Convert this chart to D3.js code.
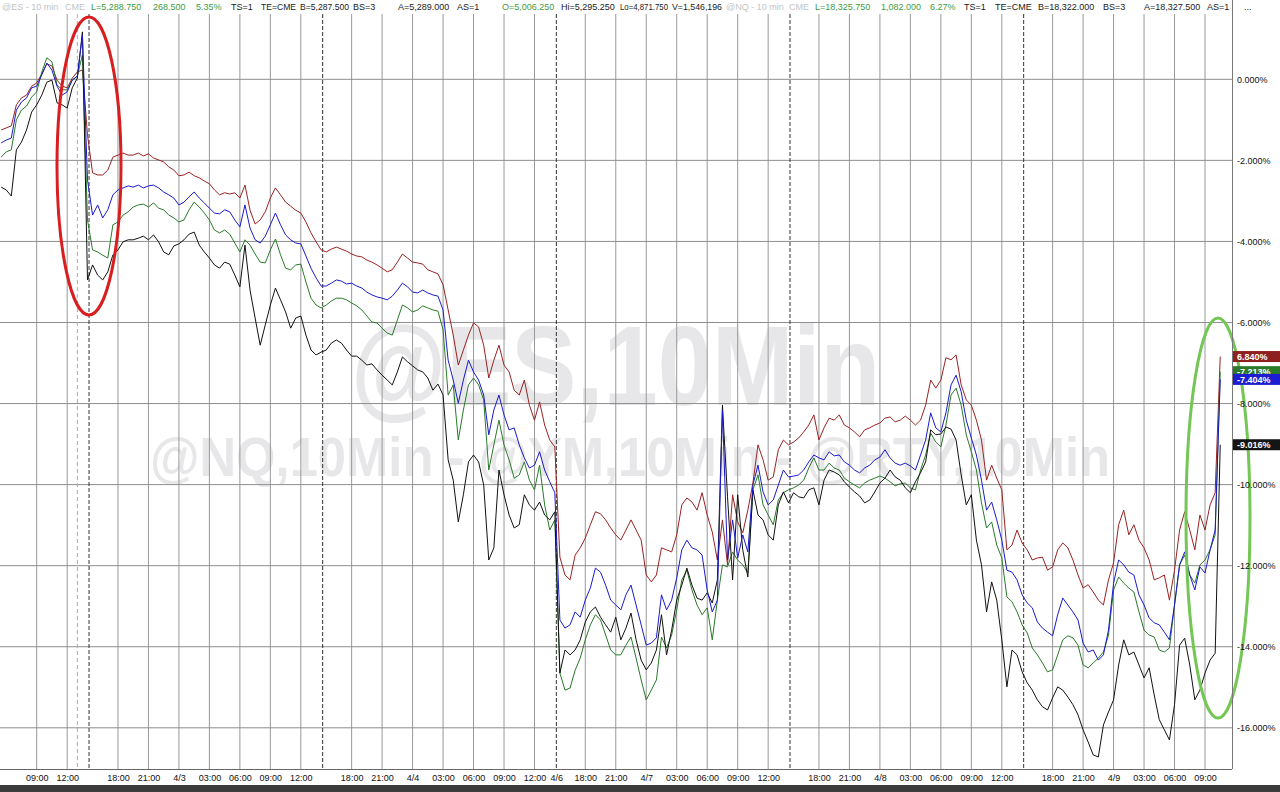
<!DOCTYPE html>
<html>
<head>
<meta charset="utf-8">
<script src="https://cdn.jsdelivr.net/npm/d3@7"></script>
<style>
  html, body { margin: 0; padding: 0; background: #fff; }
  svg { display: block; font-family: "Liberation Sans", Arial, sans-serif; }
</style>
</head>
<body>
<div id="chart"></div>
<script>
const width = 1280;
const height = 792;
const plotRight = 1232;
const plotTop = 14;
const plotBottom = 769;

// x is trading hours counted from 4/2 06:00, session gaps removed; one sample every half hour
const sampleStart = -0.5;
const sampleStep = 0.5;

// % change, YM (red)
const ymValues = [
  -1.25,-1.20,-1.15,-0.63,-0.46,-0.39,-0.17,-0.09,0.13,0.38,0.33,-0.02,-0.17,-0.21,0.03,0.18,0.23,-1.37,-2.31,-2.36,-2.36,-2.24,-1.92,-1.87,-1.82,-1.87,
  -1.87,-1.82,-1.89,-1.84,-1.94,-1.99,-2.04,-2.16,-2.24,-2.38,-2.36,-2.29,-2.38,-2.43,-2.51,-2.58,-2.73,-2.85,-2.80,-2.83,
  -2.80,-2.93,-2.61,-3.23,-3.57,-3.47,-3.27,-2.93,-2.68,-2.85,-3.03,-3.13,-3.23,-3.30,-3.52,-3.79,-4.01,-4.21,-4.26,-4.19,
  -4.14,-4.19,-4.24,-4.31,-4.36,-4.38,-4.46,-4.51,-4.58,-4.66,-4.75,-4.70,-4.51,-4.31,-4.41,-4.51,-4.53,
  -4.56,-4.70,-4.75,-4.80,-5.07,-5.69,-6.31,-7.05,-6.68,-6.31,-6.01,-6.11,-6.56,-7.37,-6.93,-6.56,-7.05,-7.22,-7.67,-7.79,
  -7.42,-8.04,-8.41,-7.96,-8.53,-8.90,-9.07,
  -11.79,-12.23,-12.35,-11.74,-11.56,-11.32,-10.99,-10.67,-10.72,-10.87,-11.07,-11.24,-11.37,-11.12,-10.87,-11.12,-11.37,-12.23,-12.40,-12.23,
  -11.56,-11.61,-11.66,-11.24,-10.50,-10.33,-10.43,-10.63,-10.20,-10.75,-11.17,-11.86,-10.87,-11.98,-10.25,-10.92,-11.19,-10.63,-9.96,-9.02,
  -9.39,-9.89,-9.81,-9.14,-8.90,-9.02,-8.95,-8.85,-8.70,-8.53,-8.28,-8.90,
  -8.60,-8.36,-8.41,-8.28,-8.53,-8.60,-8.70,-8.82,-8.65,-8.60,-8.53,-8.48,-8.36,-8.33,-8.45,-8.41,-8.31,-8.41,-8.53,-8.41,
  -8.04,-7.42,-7.62,-7.42,-6.87,-6.92,-6.80,-7.54,-7.91,-8.04,-8.41,-8.90,-9.89,-9.52,-9.84,-10.13,-11.61,-11.49,-11.12,-11.44,
  -11.61,-11.86,-11.81,-11.79,-12.11,-12.03,-11.61,-11.44,-11.56,-11.86,-12.23,-12.55,-12.47,-12.65,-12.85,-12.97,-12.35,-11.93,-10.99,-10.63,
  -11.24,-10.99,-11.37,-11.56,-11.86,-12.35,-12.30,-12.23,-12.85,-12.11,-11.12,-10.67,-11.12,-11.61,-10.75,-11.12,-10.50,-10.20,
  -6.84
];

// % change, ES (blue)
const esValues = [
  -1.57,-1.50,-1.45,-0.76,-0.56,-0.46,-0.21,-0.17,0.11,0.40,0.23,-0.17,-0.39,-0.31,-0.02,0.08,1.09,-2.48,-3.35,-3.10,-3.42,-3.22,-2.85,-2.73,-2.68,-2.63,
  -2.66,-2.61,-2.68,-2.63,-2.61,-2.68,-2.78,-2.85,-2.93,-3.10,-3.03,-2.90,-2.78,-2.93,-3.05,-3.18,-3.30,-3.32,-3.22,-3.27,
  -3.47,-3.64,-3.10,-3.67,-3.96,-4.04,-3.87,-3.59,-3.30,-3.59,-3.84,-3.96,-4.04,-4.06,-4.36,-4.66,-4.90,-5.10,-5.10,-5.03,
  -4.95,-4.98,-5.05,-5.03,-5.10,-5.15,-5.25,-5.32,-5.37,-5.40,-5.44,-5.35,-5.20,-5.03,-5.12,-5.25,-5.27,
  -5.20,-5.27,-5.32,-5.35,-5.69,-6.93,-7.42,-7.99,-7.42,-6.93,-7.22,-7.42,-7.79,-8.77,-8.16,-7.79,-8.28,-8.65,-8.60,-9.02,
  -9.34,-9.59,-9.52,-9.19,-9.64,-9.93,-10.20,
  -13.34,-13.54,-13.46,-13.14,-13.27,-12.85,-12.55,-12.06,-12.16,-12.48,-12.85,-12.97,-13.09,-12.72,-12.48,-12.97,-13.46,-13.96,-13.91,-13.78,
  -12.72,-13.09,-12.85,-12.30,-11.61,-11.37,-11.56,-11.61,-11.74,-12.60,-13.14,-12.85,-8.16,-11.86,-10.87,-11.81,-11.24,-11.66,-10.01,-9.52,
  -10.18,-10.50,-10.38,-10.01,-9.64,-9.81,-9.79,-9.76,-9.64,-9.44,-9.27,-9.34,
  -9.39,-9.19,-9.29,-9.27,-9.44,-9.52,-9.64,-9.71,-9.59,-9.52,-9.39,-9.32,-9.14,-9.34,-9.47,-9.52,-9.47,-9.54,-9.64,-9.27,
  -8.90,-8.23,-8.60,-8.70,-8.23,-7.54,-7.30,-7.71,-8.41,-8.85,-9.27,-9.89,-10.63,-10.43,-10.87,-11.37,-12.11,-12.16,-12.35,-12.72,
  -12.92,-13.04,-13.39,-13.54,-13.64,-13.73,-13.21,-12.80,-12.97,-13.14,-13.34,-13.91,-14.13,-14.08,-14.33,-14.20,-13.59,-12.43,-11.86,-11.98,
  -12.16,-12.23,-12.72,-12.97,-13.29,-13.41,-13.46,-13.64,-13.83,-12.97,-11.98,-11.66,-12.23,-12.60,-12.03,-12.18,-11.61,-11.12,
  -7.404
];

// % change, NQ (green)
const nqValues = [
  -1.92,-1.79,-1.74,-1.00,-0.76,-0.66,-0.44,-0.31,0.18,0.53,0.43,-0.14,-0.26,-0.26,-0.02,0.08,0.60,-3.47,-4.21,-4.26,-4.34,-4.41,-3.59,-3.52,-3.35,-3.27,
  -3.15,-3.10,-3.08,-3.15,-3.05,-3.18,-3.22,-3.35,-3.42,-3.52,-3.47,-3.22,-3.03,-3.15,-3.30,-3.47,-3.72,-3.79,-3.72,-3.82,
  -4.04,-4.26,-3.96,-4.09,-4.31,-4.51,-4.53,-4.21,-3.94,-4.33,-4.66,-4.70,-4.58,-4.56,-5.00,-5.40,-5.57,-5.64,-5.57,-5.47,
  -5.40,-5.40,-5.44,-5.52,-5.59,-5.69,-5.84,-5.99,-6.01,-6.14,-6.26,-6.31,-5.94,-5.57,-5.64,-5.74,-5.69,
  -5.59,-5.64,-5.69,-5.72,-6.18,-7.79,-7.54,-8.90,-8.16,-7.54,-7.37,-7.54,-7.91,-9.64,-9.02,-8.41,-9.02,-9.39,-9.84,-9.76,
  -9.44,-9.89,-10.13,-9.52,-10.50,-11.12,-10.87,
  -14.65,-15.07,-15.02,-14.58,-14.28,-13.83,-13.46,-13.21,-13.34,-13.71,-14.08,-14.20,-14.20,-13.96,-13.76,-14.28,-14.82,-15.31,-15.07,-14.82,
  -13.76,-14.03,-13.71,-13.09,-12.35,-12.11,-12.60,-12.97,-13.21,-13.04,-13.83,-12.85,-11.98,-12.03,-11.66,-11.86,-11.98,-12.18,-10.13,-9.76,
  -10.50,-10.75,-10.99,-10.38,-10.20,-10.13,-10.08,-10.01,-9.89,-9.59,-9.34,-9.64,
  -9.64,-9.47,-9.59,-9.64,-9.84,-9.93,-10.01,-10.08,-9.96,-9.89,-9.84,-9.79,-9.84,-9.93,-10.03,-9.98,-9.96,-10.08,-10.13,-9.64,
  -9.27,-8.73,-8.95,-9.07,-8.53,-7.79,-7.62,-8.04,-8.77,-9.19,-9.64,-10.45,-11.07,-10.92,-11.49,-11.81,-12.77,-12.89,-13.14,-13.46,
  -13.66,-14.03,-14.20,-14.40,-14.62,-14.57,-14.20,-13.83,-13.73,-13.78,-13.96,-14.45,-14.52,-14.40,-14.28,-14.13,-13.71,-12.60,-12.28,-12.43,
  -12.55,-12.65,-13.14,-13.59,-13.71,-13.76,-14.08,-14.13,-14.03,-12.97,-11.98,-11.74,-12.23,-12.43,-11.98,-11.86,-11.61,-11.24,
  -7.213
];

// % change, RTY (black)
const rtyValues = [
  -2.66,-2.73,-2.88,-1.74,-1.55,-1.25,-0.81,-0.63,-0.39,-0.07,-0.02,-0.58,-0.63,-0.71,-0.21,0.03,1.17,-4.95,-4.58,-4.83,-4.95,-4.75,-4.33,-4.21,-4.01,-3.96,
  -3.96,-3.92,-3.87,-3.96,-3.84,-4.01,-4.26,-4.33,-4.11,-4.06,-3.96,-3.82,-3.77,-4.09,-4.26,-4.41,-4.58,-4.66,-4.51,-4.56,
  -4.83,-5.12,-4.09,-5.20,-5.89,-6.56,-6.06,-5.57,-5.15,-5.44,-5.74,-6.14,-5.89,-5.84,-6.31,-6.68,-6.80,-6.73,-6.68,-6.51,
  -6.43,-6.51,-6.68,-6.83,-6.83,-6.93,-7.05,-7.02,-7.17,-7.30,-7.42,-7.54,-7.22,-6.85,-6.97,-7.07,-7.17,
  -7.22,-7.37,-7.67,-7.52,-7.79,-9.39,-9.89,-10.92,-10.25,-9.44,-9.27,-9.44,-10.01,-11.86,-11.56,-9.64,-10.25,-10.75,-11.07,-10.99,
  -10.25,-10.50,-10.63,-10.43,-10.75,-10.87,-10.67,
  -14.65,-14.08,-14.20,-14.08,-13.83,-13.39,-13.14,-13.02,-13.27,-13.46,-13.64,-13.27,-13.83,-13.54,-13.17,-13.83,-14.33,-14.57,-14.40,-14.08,
  -13.21,-14.20,-13.59,-12.85,-12.48,-12.06,-12.48,-12.80,-12.85,-12.67,-12.92,-12.35,-8.04,-10.30,-12.35,-10.25,-11.61,-12.28,-10.13,-10.75,
  -10.87,-11.24,-11.37,-10.50,-10.18,-10.45,-10.20,-10.30,-10.33,-10.13,-10.08,-10.50,
  -9.89,-9.64,-9.69,-9.76,-9.93,-10.06,-10.18,-10.28,-10.45,-10.38,-10.18,-9.96,-9.84,-9.64,-9.81,-9.89,-10.08,-10.20,-9.93,-9.71,
  -9.44,-8.65,-8.77,-8.75,-8.58,-8.63,-8.90,-9.76,-10.50,-10.25,-11.37,-11.98,-13.14,-12.40,-12.85,-13.83,-14.99,-14.08,-14.20,-14.62,
  -14.89,-15.07,-15.31,-15.48,-15.56,-15.26,-14.99,-15.07,-15.24,-15.43,-15.68,-16.05,-16.35,-16.67,-16.72,-15.93,-15.61,-15.31,-14.45,-13.83,
  -14.20,-14.13,-14.45,-14.77,-14.52,-15.19,-15.80,-16.05,-16.30,-15.43,-13.96,-13.79,-14.45,-15.31,-15.07,-14.65,-14.33,-14.16,
  -9.016
];

const tickLabels = ["09:00","12:00","18:00","21:00","4/3","03:00","06:00","09:00","12:00","18:00","21:00","4/4","03:00","06:00","09:00","12:00",
  "4/6","18:00","21:00","4/7","03:00","06:00","09:00","12:00","18:00","21:00","4/8","03:00","06:00","09:00","12:00","18:00","21:00","4/9","03:00","06:00","09:00"];
const tickHours = [3,6,11,14,17,20,23,26,29,34,37,40,43,46,49,52,54.15,57,60,63,66,69,72,75,80,83,86,89,92,95,98,103,106,109,112,115,118];
const sessionBreaks = [8.15, 31.15, 54.15, 77.15, 100.15];
const lightBreaks = [7];
const yTicks = [0, -2, -4, -6, -8, -10, -12, -14, -16];

const endLabels = ["6.840%", "-7.213%", "-7.404%", "-9.016%"];

const header = [
  ["@ES - 10 min", "#c4c4c4", 2], ["CME", "#c4c4c4", 65], ["L=5,288.750", "#3f9b3f", 91], ["268.500", "#3f9b3f", 153],
  ["5.35%", "#3f9b3f", 196], ["TS=1", "#222", 231], ["TE=CME", "#222", 261], ["B=5,287.500", "#222", 300], ["BS=3", "#222", 353],
  ["A=5,289.000", "#222", 398], ["AS=1", "#222", 457], ["O=5,006.250", "#3f9b3f", 502], ["Hi=5,295.250", "#222", 561],
  ["Lo=4,871.750", "#222", 620], ["V=1,546,196", "#222", 672], ["@NQ - 10 min", "#c4c4c4", 726], ["CME", "#c4c4c4", 789],
  ["L=18,325.750", "#3f9b3f", 815], ["1,082.000", "#3f9b3f", 881], ["6.27%", "#3f9b3f", 930], ["TS=1", "#222", 964],
  ["TE=CME", "#222", 995], ["B=18,322.000", "#222", 1038], ["BS=3", "#222", 1103], ["A=18,327.500", "#222", 1144],
  ["AS=1", "#222", 1207], ["...", "#222", 1244]
];

const series = [
  { name: "YM", values: ymValues, color: "#9a2222" },
  { name: "NQ", values: nqValues, color: "#2a7a2a" },
  { name: "RTY", values: rtyValues, color: "#111111" },
  { name: "ES", values: esValues, color: "#1a1acc" }
];

const x = d3.scaleLinear().domain([0, 118]).range([6.22, 1205]);
const y = d3.scaleLinear().domain([0, -16]).range([79.3, 727.8]);

const svg = d3.select("#chart")
  .append("svg")
  .attr("width", width)
  .attr("height", height);

svg.append("rect").attr("width", width).attr("height", height).attr("fill", "#fff");

// watermarks
svg.append("text")
  .attr("x", 351).attr("y", 405)
  .attr("font-size", 114).attr("font-weight", "bold")
  .attr("fill", "#e7e7e9")
  .attr("textLength", 529).attr("lengthAdjust", "spacingAndGlyphs")
  .text("@ES,10Min");

svg.append("text")
  .attr("x", 150).attr("y", 476)
  .attr("font-size", 56).attr("font-weight", "bold")
  .attr("fill", "#e7e7e9")
  .attr("textLength", 960).attr("lengthAdjust", "spacingAndGlyphs")
  .text("@NQ,10Min - @YM,10Min - @RTY,10Min");

// grid
const grid = svg.append("g");
grid.selectAll(".vgrid")
  .data(tickHours.filter(h => !sessionBreaks.includes(h)))
  .enter()
  .append("line")
  .attr("x1", d => x(d)).attr("x2", d => x(d))
  .attr("y1", plotTop).attr("y2", plotBottom)
  .attr("stroke", "#999").attr("stroke-width", 1);

grid.selectAll(".hgrid")
  .data(yTicks)
  .enter()
  .append("line")
  .attr("x1", 0).attr("x2", plotRight)
  .attr("y1", d => y(d)).attr("y2", d => y(d))
  .attr("stroke", "#8e8e8e").attr("stroke-width", 1);

grid.selectAll(".sbreak")
  .data(sessionBreaks)
  .enter()
  .append("line")
  .attr("x1", d => x(d)).attr("x2", d => x(d))
  .attr("y1", plotTop).attr("y2", plotBottom)
  .attr("stroke", "#333").attr("stroke-width", 1)
  .attr("stroke-dasharray", "4,2");

grid.selectAll(".lbreak")
  .data(lightBreaks)
  .enter()
  .append("line")
  .attr("x1", d => x(d)).attr("x2", d => x(d))
  .attr("y1", plotTop).attr("y2", plotBottom)
  .attr("stroke", "#aaa").attr("stroke-width", 1)
  .attr("stroke-dasharray", "4,3");

// series
const line = d3.line()
  .x((d, i) => x(sampleStart + i * sampleStep))
  .y(d => y(d));

svg.append("g")
  .selectAll("path")
  .data(series)
  .enter()
  .append("path")
  .attr("d", d => line(d.values))
  .attr("fill", "none")
  .attr("stroke", d => d.color)
  .attr("stroke-width", 1);

// highlight ellipses
svg.append("ellipse")
  .attr("cx", 89).attr("cy", 166).attr("rx", 32).attr("ry", 149)
  .attr("fill", "none").attr("stroke", "#d81e1e").attr("stroke-width", 3);

svg.append("ellipse")
  .attr("cx", 1218).attr("cy", 518).attr("rx", 32).attr("ry", 200)
  .attr("fill", "none").attr("stroke", "#74c655").attr("stroke-width", 3);

// axes
const xAxis = d3.axisBottom(x)
  .tickValues(tickHours)
  .tickFormat((d, i) => tickLabels[i])
  .tickSize(0)
  .tickPadding(6);

const gx = svg.append("g")
  .attr("transform", "translate(0," + plotBottom + ")")
  .call(xAxis);
gx.select(".domain").remove();
gx.selectAll("text").attr("font-size", 9).attr("fill", "#111").attr("font-family", "Liberation Sans, Arial, sans-serif");

const yAxis = d3.axisRight(y)
  .tickValues(yTicks)
  .tickFormat(v => v.toFixed(3) + "%")
  .tickSize(0)
  .tickPadding(5);

const gy = svg.append("g")
  .attr("transform", "translate(" + plotRight + ",0)")
  .call(yAxis);
gy.select(".domain").remove();
gy.selectAll("text").attr("font-size", 9).attr("fill", "#111").attr("font-family", "Liberation Sans, Arial, sans-serif");

svg.append("line")
  .attr("x1", 0).attr("x2", plotRight)
  .attr("y1", plotBottom + 0.5).attr("y2", plotBottom + 0.5)
  .attr("stroke", "#666");

svg.append("line")
  .attr("x1", plotRight + 0.5).attr("x2", plotRight + 0.5)
  .attr("y1", 0).attr("y2", plotBottom)
  .attr("stroke", "#777");

// last value boxes (green first so blue overlaps it)
const boxes = [
  { s: series[1], label: endLabels[1], fill: "#2c7a2c" },
  { s: series[3], label: endLabels[2], fill: "#1c1cd0" },
  { s: series[0], label: endLabels[0], fill: "#8e1f1f" },
  { s: series[2], label: endLabels[3], fill: "#151515" }
];

const box = svg.append("g")
  .selectAll("g")
  .data(boxes)
  .enter()
  .append("g")
  .attr("transform", d => "translate(" + (plotRight + 1) + "," + y(d.s.values[d.s.values.length - 1]) + ")");

box.append("rect")
  .attr("x", 0).attr("y", -5.5)
  .attr("width", width - plotRight).attr("height", 11)
  .attr("fill", d => d.fill);

box.append("text")
  .attr("x", 4).attr("y", 3.5)
  .attr("font-size", 9).attr("font-weight", "bold")
  .attr("fill", "#fff")
  .text(d => d.label);

// header line; squeeze an item if it would run into the next one
const headerText = svg.append("g")
  .selectAll("text")
  .data(header)
  .enter()
  .append("text")
  .attr("x", d => d[2]).attr("y", 10)
  .attr("font-size", 9)
  .attr("fill", d => d[1])
  .text(d => d[0]);

headerText.each(function (d, i) {
  if (i === header.length - 1) return;
  const room = header[i + 1][2] - d[2] - 4;
  const w = this.getComputedTextLength();
  if (w > room) {
    d3.select(this).attr("textLength", room).attr("lengthAdjust", "spacingAndGlyphs");
  }
});

// bottom bar
svg.append("rect")
  .attr("x", 0).attr("y", 785)
  .attr("width", width).attr("height", height - 785)
  .attr("fill", "#3b3b3b");
</script>
</body>
</html>
